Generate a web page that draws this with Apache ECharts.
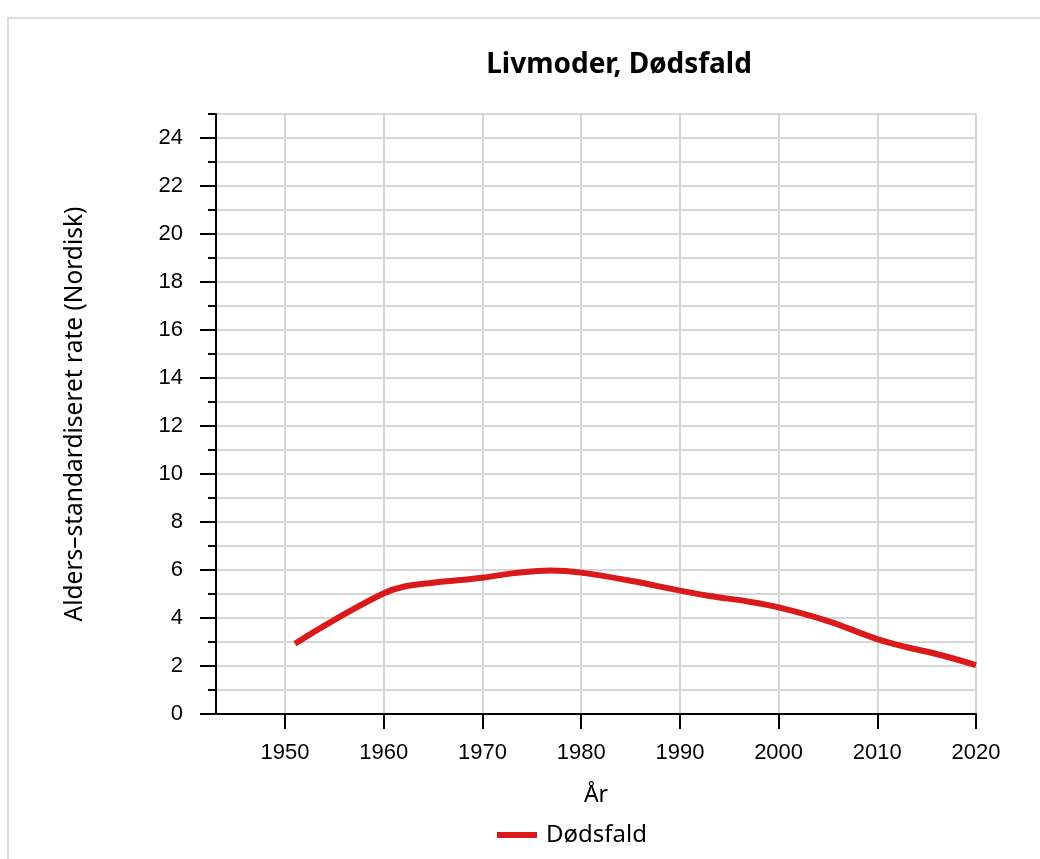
<!DOCTYPE html>
<html>
<head>
<meta charset="utf-8">
<script src="https://cdn.jsdelivr.net/npm/echarts@6/dist/echarts.min.js"></script>
<style>
  html, body { margin: 0; padding: 0; background: #fff; }
  #frame { position: absolute; left: 7px; top: 17px; width: 1100px; height: 900px;
           border-top: 2px solid #dcdcdc; border-left: 2px solid #dcdcdc; }
  #chart { position: absolute; left: 0; top: 0; width: 1040px; height: 859px; }
</style>
</head>
<body>
<div id="frame"></div>
<div id="chart"></div>
<script>
// data
const years = [1951, 1955, 1960, 1962, 1965, 1970, 1973, 1977, 1980, 1985, 1990, 1993, 1997, 2000, 2005, 2010, 2013, 2016, 2020]
const deaths = [2.93, 3.92, 5.03, 5.3, 5.47, 5.68, 5.86, 5.98, 5.89, 5.55, 5.14, 4.92, 4.68, 4.44, 3.87, 3.12, 2.78, 2.5, 2.04]
const xTicks = [1950, 1960, 1970, 1980, 1990, 2000, 2010, 2020]
const yTicks = [0, 2, 4, 6, 8, 10, 12, 14, 16, 18, 20, 22, 24]

const lineColor = '#da1a1a'
const gridColor = '#d6d6d6'
const labelFont = { fontFamily: 'Liberation Sans', fontSize: 22, color: '#000' }

const chart = echarts.init(document.getElementById('chart'))
const option = {
  animation: false,
  title: {
    text: 'Livmoder, Dødsfald',
    left: 614,
    textAlign: 'center',
    top: 46,
    textStyle: { fontFamily: 'Noto Sans', fontWeight: 'bold', fontSize: 28, color: '#000' }
  },
  legend: {
    data: ['Dødsfald'],
    left: 492,
    top: 818,
    icon: 'rect',
    itemWidth: 40,
    itemHeight: 6,
    itemGap: 10,
    textStyle: { fontFamily: 'Noto Sans', fontSize: 24, color: '#000', padding: [0, 0, 0, 4] }
  },
  grid: { left: 216, right: 64, top: 114, bottom: 145, outerBoundsMode: 'none' },
  xAxis: {
    type: 'value',
    min: 1943,
    max: 2020,
    name: 'År',
    nameLocation: 'middle',
    nameGap: 70,
    nameTextStyle: { fontFamily: 'Noto Sans', fontSize: 23, color: '#000' },
    axisLine: { lineStyle: { color: '#000', width: 2 } },
    axisTick: { customValues: xTicks, length: 15, lineStyle: { color: '#000', width: 2 } },
    axisLabel: { customValues: xTicks, margin: 28, formatter: v => String(v), ...labelFont },
    splitLine: { show: true, lineStyle: { color: gridColor, width: 2 } }
  },
  yAxis: [
    {
      type: 'value',
      min: 0,
      max: 25,
      interval: 1,
      name: 'Alders–standardiseret rate (Nordisk)',
      nameLocation: 'middle',
      nameGap: 128,
      nameTextStyle: { fontFamily: 'Noto Sans', fontSize: 24.5, color: '#000' },
      axisLine: { show: true, lineStyle: { color: '#000', width: 2 } },
      axisTick: { show: true, customValues: yTicks, length: 16, lineStyle: { color: '#000', width: 2 } },
      axisLabel: { customValues: yTicks, margin: 33, ...labelFont },
      splitLine: { show: false }
    },
    {
      type: 'value',
      min: 0,
      max: 25,
      interval: 1,
      position: 'left',
      axisLine: { show: false },
      axisTick: { show: true, length: 8, lineStyle: { color: '#000', width: 2 } },
      axisLabel: { show: false },
      splitLine: { show: true, lineStyle: { color: gridColor, width: 2 } }
    }
  ],
  series: [{
    name: 'Dødsfald',
    type: 'line',
    data: years.map((y, i) => [y, deaths[i]]),
    smooth: 0.4,
    showSymbol: false,
    symbol: 'none',
    itemStyle: { color: lineColor },
    lineStyle: { color: lineColor, width: 6 }
  }]
}
chart.setOption(option)
</script>
</body>
</html>
